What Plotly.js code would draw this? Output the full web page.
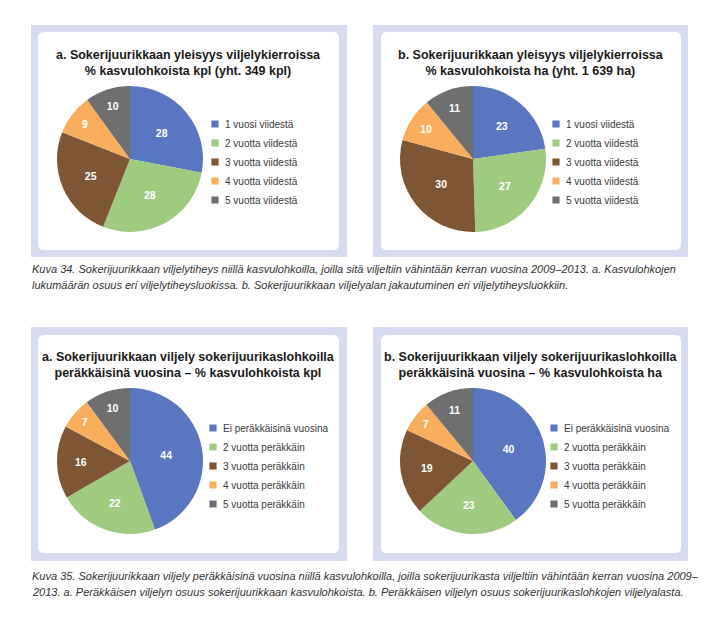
<!DOCTYPE html>
<html>
<head>
<meta charset="utf-8">
<script src="https://cdn.plot.ly/plotly-3.0.1.min.js"></script>
<style>
html,body{margin:0;padding:0;background:#fff;}
#chart{width:710px;height:622px;}
.legendpoints path{transform: translate(30px,0) scale(0.6);}
</style>
</head>
<body>
<div id="chart"></div>
<script>
// ---- data ----
const freqLabels = ['1 vuosi viidestä','2 vuotta viidestä','3 vuotta viidestä','4 vuotta viidestä','5 vuotta viidestä'];
const freqKpl = [28, 28, 25, 9, 10];
const freqHa = [23, 27, 30, 10, 11];
const seqLabels = ['Ei peräkkäisinä vuosina','2 vuotta peräkkäin','3 vuotta peräkkäin','4 vuotta peräkkäin','5 vuotta peräkkäin'];
const seqKpl = [44, 22, 16, 7, 10];
const seqHa = [40, 23, 19, 7, 11];
const sliceColors = ['#5877C0','#9FCB80','#7E5633','#F8AE5D','#6F6F6F'];

const titleA1 = 'a. Sokerijuurikkaan yleisyys viljelykierroissa<br>% kasvulohkoista kpl (yht. 349 kpl)';
const titleB1 = 'b. Sokerijuurikkaan yleisyys viljelykierroissa<br>% kasvulohkoista ha (yht. 1 639 ha)';
const titleA2 = 'a. Sokerijuurikkaan viljely sokerijuurikaslohkoilla<br>peräkkäisinä vuosina – % kasvulohkoista kpl';
const titleB2 = 'b. Sokerijuurikkaan viljely sokerijuurikaslohkoilla<br>peräkkäisinä vuosina – % kasvulohkoista ha';
const caption1 = ['Kuva 34. Sokerijuurikkaan viljelytiheys niillä kasvulohkoilla, joilla sitä viljeltiin vähintään kerran vuosina 2009–2013. a. Kasvulohkojen',
                  'lukumäärän osuus eri viljelytiheysluokissa. b. Sokerijuurikkaan viljelyalan jakautuminen eri viljelytiheysluokkiin.'];
const caption2 = ['Kuva 35. Sokerijuurikkaan viljely peräkkäisinä vuosina niillä kasvulohkoilla, joilla sokerijuurikasta viljeltiin vähintään kerran vuosina 2009–',
                  '2013. a. Peräkkäisen viljelyn osuus sokerijuurikkaan kasvulohkoista. b. Peräkkäisen viljelyn osuus sokerijuurikaslohkojen viljelyalasta.'];

// ---- layout helpers ----
const W = 710, H = 622;
const px = x => x / W;
const py = y => 1 - y / H;
const FONT = 'Liberation Sans, Arial, sans-serif';

function pie(labels, values, cx, cy, r, legendId) {
  return {
    type: 'pie', labels: labels, values: values, sort: false,
    direction: 'clockwise', rotation: 0,
    marker: {colors: sliceColors, line: {width: 0}},
    textinfo: 'value', textposition: 'inside', insidetextorientation: 'horizontal',
    textfont: {family: FONT, size: 10.5, color: '#ffffff', weight: 'bold'},
    domain: {x: [px(cx - r), px(cx + r)], y: [py(cy + r), py(cy - r)]},
    legend: legendId, legendgroup: 'g_' + legendId, hoverinfo: 'none'
  };
}

const traces = [
  pie(freqLabels, freqKpl, 130, 159, 73, 'legend'),
  pie(freqLabels, freqHa, 473, 159, 73, 'legend2'),
  pie(seqLabels, seqKpl, 130, 461, 73, 'legend3'),
  pie(seqLabels, seqHa, 473, 461, 73, 'legend4')
];

function legendAt(textX, midY) {
  return {x: px(textX - 40), y: py(midY), xanchor: 'left', yanchor: 'middle',
          bgcolor: 'rgba(0,0,0,0)', borderwidth: 0,
          font: {family: FONT, size: 10, color: '#3a3a3a'}, traceorder: 'normal'};
}

function panel(x0, y0, x1, y1, ix0, iy0, ix1, iy1) {
  const rx = 6 / W, ry = 6 / H;
  const a = px(ix0), b = px(ix1), t = py(iy0), u = py(iy1);
  const path = `M${a + rx},${t} L${b - rx},${t} Q${b},${t} ${b},${t - ry} L${b},${u + ry} Q${b},${u} ${b - rx},${u} L${a + rx},${u} Q${a},${u} ${a},${u + ry} L${a},${t - ry} Q${a},${t} ${a + rx},${t} Z`;
  return [
    {type: 'rect', xref: 'paper', yref: 'paper', x0: px(x0), x1: px(x1), y0: py(y1), y1: py(y0),
     fillcolor: '#D7DBEF', line: {width: 0}, layer: 'below'},
    {type: 'path', xref: 'paper', yref: 'paper', path: path, fillcolor: '#ffffff', line: {width: 0}, layer: 'below'}
  ];
}

const shapes = [].concat(
  panel(31, 25, 347, 257, 38, 32, 339, 250),
  panel(373, 25, 688, 257, 381, 32, 681, 250),
  panel(31, 327, 347, 561, 38, 335, 339, 553),
  panel(373, 327, 688, 561, 381, 335, 681, 553)
);

function title(text, cx, cy) {
  return {text: text, x: px(cx), y: py(cy), xref: 'paper', yref: 'paper', xanchor: 'center', yanchor: 'middle',
          showarrow: false, align: 'center', font: {family: FONT, size: 12.5, color: '#1a1a1a', weight: 'bold'}};
}
function capLine(text, y) {
  return {text: text, x: px(30), y: py(y), xref: 'paper', yref: 'paper', xanchor: 'left', yanchor: 'middle',
          showarrow: false, align: 'left', font: {family: 'Liberation Sans Narrow, Arial Narrow, Liberation Sans, sans-serif', size: 11, color: '#333333', style: 'italic'}};
}

const annotations = [
  title(titleA1, 189, 63),
  title(titleB1, 531, 63),
  title(titleA2, 189, 365),
  title(titleB2, 531, 365),
  capLine(caption1[0], 269), capLine(caption1[1], 285),
  capLine(caption2[0], 576), capLine(caption2[1], 592)
];

const layout = {
  width: W, height: H, margin: {l: 0, r: 0, t: 0, b: 0},
  paper_bgcolor: '#ffffff', plot_bgcolor: '#ffffff',
  showlegend: true,
  legend: legendAt(225, 162),
  legend2: legendAt(566, 162),
  legend3: legendAt(223, 466),
  legend4: legendAt(564, 466),
  shapes: shapes, annotations: annotations
};

Plotly.newPlot('chart', traces, layout, {staticPlot: true, displayModeBar: false});
</script>
</body>
</html>
